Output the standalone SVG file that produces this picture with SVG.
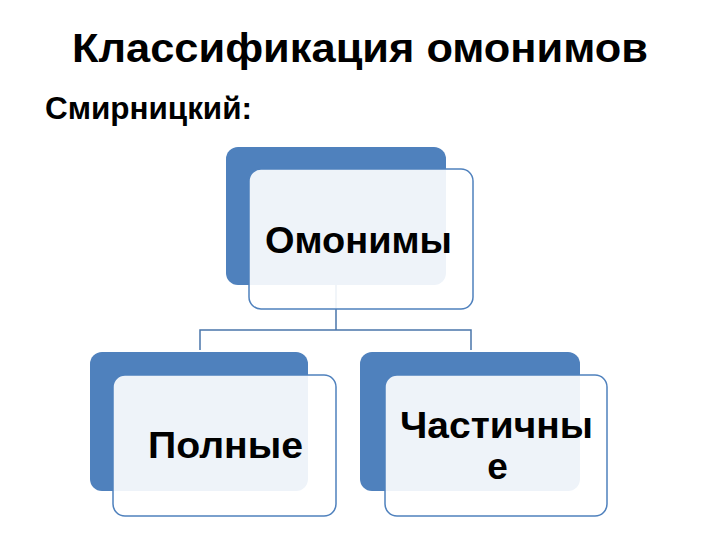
<svg xmlns="http://www.w3.org/2000/svg" width="720" height="540" viewBox="0 0 720 540">
<style>
.back{fill:#4f81bd}
.front{fill:#ffffff;fill-opacity:0.9;stroke:#4f81bd;stroke-width:1.5}
.lbl{font-family:"Liberation Sans",Arial,sans-serif;font-weight:bold;fill:#000;text-anchor:middle}
.conn{fill:none;stroke:#4a76ab;stroke-width:1.5}
</style>
<rect width="720" height="540" fill="#fff"/>
<text class="lbl" x="360" y="62" font-size="40" textLength="576" lengthAdjust="spacingAndGlyphs">Классификация омонимов</text>
<text class="lbl" x="45" y="119" font-size="31" style="text-anchor:start" textLength="207" lengthAdjust="spacingAndGlyphs">Смирницкий:</text>
<g id="connectors">
<path class="conn" d="M336 285 V330 M200 350 V330 H471 V350"/>
</g>
<g id="node-omonimy">
<rect class="back" x="226" y="147" width="220" height="138" rx="12"/>
<rect class="front" x="249" y="169" width="224" height="140" rx="12"/>
<text class="lbl" x="358.5" y="253" font-size="37" textLength="187" lengthAdjust="spacingAndGlyphs">Омонимы</text>
</g>
<g id="node-polnye">
<rect class="back" x="90" y="352" width="218" height="139" rx="12"/>
<rect class="front" x="113" y="375" width="223" height="141" rx="12"/>
<text class="lbl" x="225.5" y="458" font-size="37" textLength="155" lengthAdjust="spacingAndGlyphs">Полные</text>
</g>
<g id="node-chastichnye">
<rect class="back" x="360" y="352" width="220" height="139" rx="12"/>
<rect class="front" x="385" y="375" width="222" height="141" rx="12"/>
<text class="lbl" x="496.5" y="438" font-size="37" textLength="193" lengthAdjust="spacingAndGlyphs">Частичны</text>
<text class="lbl" x="497.5" y="479" font-size="37">е</text>
</g>
</svg>
